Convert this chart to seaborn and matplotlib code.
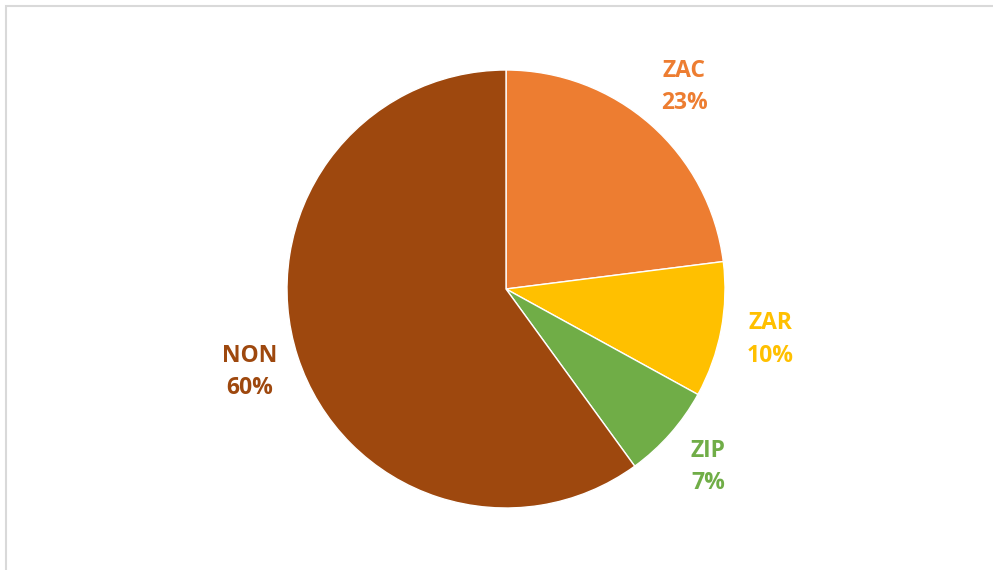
import matplotlib
matplotlib.use("Agg")
import matplotlib.pyplot as plt
import matplotlib.patches as mpatches
import seaborn as sns

categories = ["ZAC", "ZAR", "ZIP", "NON"]
shares = [23, 10, 7, 60]
colors = ["#ED7D31", "#FFC000", "#70AD47", "#9E480E"]

sns.set_theme(style="white")
plt.rcParams["font.family"] = ["Open Sans", "DejaVu Sans"]

W, H = 993, 570
fig = plt.figure(figsize=(W / 100, H / 100), dpi=100)

# pie centred at (506, 289) px with a 219 px radius
cx, cy, r = 506, 289, 219
ax = fig.add_axes([(cx - r) / W, (H - cy - r) / H, 2 * r / W, 2 * r / H])

wedges, texts = ax.pie(
    shares,
    colors=colors,
    startangle=90,
    counterclock=False,
    labels=[f"{c}\n{v}%" for c, v in zip(categories, shares)],
    labeldistance=1.23,
    wedgeprops=dict(edgecolor="white", linewidth=1),
)
for t, c in zip(texts, colors):
    t.set_color(c)
    t.set_ha("center")
    t.set_va("center")
    t.set_fontsize(16.5)
    t.set_fontweight("bold")
    t.set_linespacing(1.45)
ax.set_xlim(-1, 1)
ax.set_ylim(-1, 1)
ax.set_aspect("equal")
ax.axis("off")

# light grey chart frame
frame = mpatches.Rectangle(
    (6 / W, -0.05), 1.1, 1 - 6 / H + 0.05,
    transform=fig.transFigure, fill=False,
    edgecolor="#D9D9D9", linewidth=1.5, clip_on=False,
)
fig.patches.append(frame)

fig.savefig("out.png", dpi=100, facecolor="white")
